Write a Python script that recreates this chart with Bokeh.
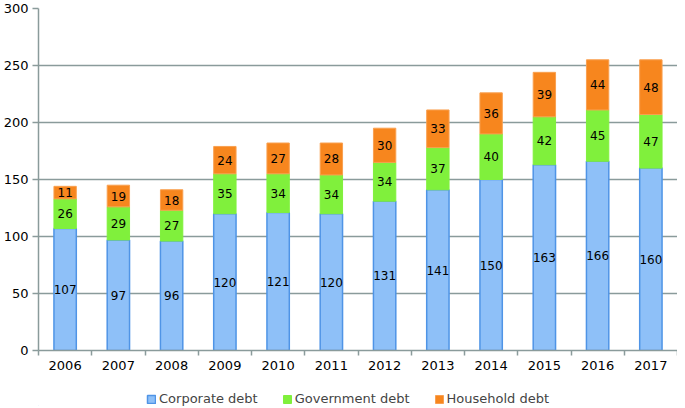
import numpy as np
from bokeh.plotting import figure
from bokeh.layouts import column
from bokeh.models import ColumnDataSource, FixedTicker, Legend, LegendItem, Range1d
from bokeh.core.properties import value
from bokeh.embed import file_html
from bokeh.resources import INLINE

years = ["2006", "2007", "2008", "2009", "2010", "2011", "2012", "2013", "2014", "2015", "2016", "2017"]
corporate = [107, 97, 96, 120, 121, 120, 131, 141, 150, 163, 166, 160]
government = [26, 29, 27, 35, 34, 34, 34, 37, 40, 42, 45, 47]
household = [11, 19, 18, 24, 27, 28, 30, 33, 36, 39, 44, 48]
series_names = ["Corporate debt", "Government debt", "Household debt"]
colors = ["#8EC0F8", "#80F03C", "#F7861E"]
line_colors = ["#4F94E6", "#80F03C", "#F9A050"]

FONT = "DejaVu Sans"
GRID = "#8A9B9B"

x = np.arange(len(years)) + 0.5
c = np.array(corporate, float)
g = np.array(government, float)
h = np.array(household, float)

src = ColumnDataSource(dict(
    x=x,
    c_top=c, g_bot=c, g_top=c + g, h_bot=c + g, h_top=c + g + h,
    c_mid=c / 2, g_mid=c + g / 2, h_mid=c + g + h / 2,
    c_lab=[str(v) for v in corporate], g_lab=[str(v) for v in government], h_lab=[str(v) for v in household],
))

p = figure(width=677, height=378, output_backend="svg", toolbar_location=None,
           x_range=Range1d(0, len(years)), y_range=Range1d(0, 300),
           min_border_left=35, min_border_right=0, min_border_top=8, min_border_bottom=28)
p.outline_line_color = None
p.background_fill_color = "white"

bw = 0.42
widths = [1.5, 1, 1]
r1 = p.vbar(x="x", bottom=0, top="c_top", width=bw, source=src, fill_color=colors[0], line_color=line_colors[0], line_width=widths[0])
r2 = p.vbar(x="x", bottom="g_bot", top="g_top", width=bw, source=src, fill_color=colors[1], line_color=line_colors[1], line_width=widths[1])
r3 = p.vbar(x="x", bottom="h_bot", top="h_top", width=bw, source=src, fill_color=colors[2], line_color=line_colors[2], line_width=widths[2])

for ycol, lcol in (("c_mid", "c_lab"), ("g_mid", "g_lab"), ("h_mid", "h_lab")):
    p.text(x="x", y=ycol, text=lcol, source=src, text_align="center", text_baseline="middle",
           text_font=value(FONT), text_font_size="12px", text_color="black")

# axes
p.xaxis.ticker = FixedTicker(ticks=list(x), minor_ticks=list(range(len(years) + 1)))
p.xaxis.major_label_overrides = {float(xi): yr for xi, yr in zip(x, years)}
p.xaxis.major_tick_line_color = None
p.xaxis.major_tick_out = 5
p.xaxis.major_tick_in = 0
p.xaxis.minor_tick_line_color = GRID
p.xaxis.minor_tick_out = 5
p.xaxis.minor_tick_in = 0
p.xaxis.minor_tick_line_width = 1.5
p.xaxis.major_label_standoff = 5

p.yaxis.ticker = FixedTicker(ticks=[0, 50, 100, 150, 200, 250, 300])
p.yaxis.major_tick_line_color = GRID
p.yaxis.major_tick_line_width = 1.5
p.yaxis.major_tick_out = 6
p.yaxis.major_tick_in = 0
p.yaxis.minor_tick_line_color = None
p.yaxis.major_label_standoff = 4

for ax in (p.xaxis, p.yaxis):
    ax.axis_line_color = GRID
    ax.axis_line_width = 1.5
    ax.major_label_text_font = FONT
    ax.major_label_text_font_size = "13px"
    ax.major_label_text_color = "black"

p.xgrid.grid_line_color = None
p.ygrid.grid_line_color = GRID
p.ygrid.grid_line_width = 1.5

# legend strip below the chart (proxy renderers lie outside the strip's visible range)
p2 = figure(width=677, height=28, output_backend="svg", toolbar_location=None,
            x_range=Range1d(0, 1), y_range=Range1d(0, 1),
            min_border_left=0, min_border_right=0, min_border_top=0, min_border_bottom=0)
p2.axis.visible = False
p2.grid.visible = False
p2.outline_line_color = None
proxy = ColumnDataSource(dict(x=[-10.0], top=[-10.0]))
items = []
for name, fc, lc, lw in zip(series_names, colors, line_colors, widths):
    rr = p2.vbar(x="x", top="top", bottom=-11, width=0.1, source=proxy, fill_color=fc, line_color=lc, line_width=lw)
    items.append(LegendItem(label=name, renderers=[rr]))

legend = Legend(items=items, orientation="horizontal", location=(108, 0),
                label_text_font=FONT, label_text_font_size="13px",
                glyph_width=10, glyph_height=10, label_standoff=3, spacing=24,
                border_line_color=None, background_fill_alpha=0, padding=1, margin=0)
p2.add_layout(legend, "center")

layout = column(p, p2, spacing=0)
open("out.html", "w").write(file_html(layout, INLINE))
